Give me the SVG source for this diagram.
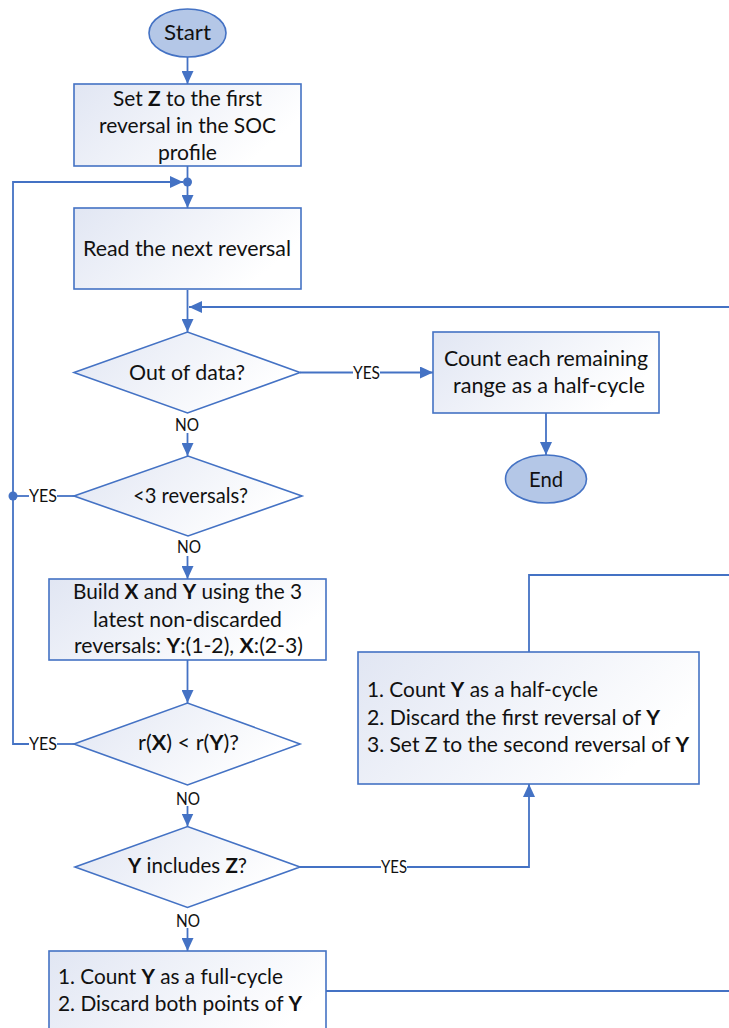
<svg xmlns="http://www.w3.org/2000/svg" width="729" height="1028" viewBox="0 0 729 1028">
<style>
.box{fill:url(#g);stroke:#4472c4;stroke-width:1.6}
.term{fill:#b4c7e7;stroke:#4472c4;stroke-width:1.6}
.t{font-family:Lato,"Open Sans",sans-serif;font-size:21px;fill:#111111}
.l{font-family:Lato,"Open Sans",sans-serif;font-size:17.5px;fill:#111111}
.b{font-weight:bold}
.e{fill:none;stroke:#4472c4;stroke-width:1.8}
.dot{fill:#4472c4}
</style>
<defs>
<linearGradient id="g" x1="0" y1="0" x2="1" y2="0.4">
<stop offset="0" stop-color="#e1e6f3"/>
<stop offset="1" stop-color="#ffffff"/>
</linearGradient>
<marker id="a" markerUnits="userSpaceOnUse" markerWidth="13" markerHeight="12" refX="13" refY="6" orient="auto">
<path d="M0,0 L13,6 L0,12 Z" fill="#4472c4"/>
</marker>
</defs>
<rect width="729" height="1028" fill="#ffffff"/>

<g id="connectors">
<path class="e" d="M187.5,57 V84" marker-end="url(#a)"/>
<path class="e" d="M187.5,166 V208" marker-end="url(#a)"/>
<circle class="dot" cx="187.5" cy="182" r="4.5"/>
<path class="e" d="M74,744 H57"/>
<path class="e" d="M29,744 H13 V182 H183" marker-end="url(#a)"/>
<path class="e" d="M74,496 H57"/>
<path class="e" d="M29,496 H13"/>
<circle class="dot" cx="13" cy="496" r="4.5"/>
<path class="e" d="M187.5,290 V332" marker-end="url(#a)"/>
<path class="e" d="M729,307 H189" marker-end="url(#a)"/>
<path class="e" d="M300,372.5 H353"/>
<path class="e" d="M380,372.5 H433" marker-end="url(#a)"/>
<path class="e" d="M546,413 V455" marker-end="url(#a)"/>
<path class="e" d="M187.5,433 V456" marker-end="url(#a)"/>
<path class="e" d="M187.5,556 V579" marker-end="url(#a)"/>
<path class="e" d="M187.5,660 V703" marker-end="url(#a)"/>
<path class="e" d="M187.5,806 V826.5" marker-end="url(#a)"/>
<path class="e" d="M300,867 H381"/>
<path class="e" d="M407,867 H529 V784" marker-end="url(#a)"/>
<path class="e" d="M529,652 V575 H729"/>
<path class="e" d="M187.5,928 V951" marker-end="url(#a)"/>
<path class="e" d="M326,991 H729"/>
<text class="l" x="353" y="379" textLength="27" lengthAdjust="spacingAndGlyphs">YES</text>
<text class="l" x="175" y="431" textLength="24" lengthAdjust="spacingAndGlyphs">NO</text>
<text class="l" x="29" y="502" textLength="28" lengthAdjust="spacingAndGlyphs">YES</text>
<text class="l" x="177" y="553" textLength="24" lengthAdjust="spacingAndGlyphs">NO</text>
<text class="l" x="29" y="750" textLength="28" lengthAdjust="spacingAndGlyphs">YES</text>
<text class="l" x="176" y="805" textLength="24" lengthAdjust="spacingAndGlyphs">NO</text>
<text class="l" x="381" y="873" textLength="26" lengthAdjust="spacingAndGlyphs">YES</text>
<text class="l" x="176" y="927" textLength="24" lengthAdjust="spacingAndGlyphs">NO</text>
</g>

<g id="start">
<ellipse class="term" cx="187.5" cy="33" rx="38.5" ry="24"/>
<text class="t" x="164" y="40" textLength="47" lengthAdjust="spacingAndGlyphs">Start</text>
</g>

<g id="setZ">
<rect class="box" x="74" y="84" width="227" height="82"/>
<text class="t" x="113" y="106" textLength="149" lengthAdjust="spacingAndGlyphs">Set <tspan class="b">Z</tspan> to the first</text>
<text class="t" x="99" y="133" textLength="177" lengthAdjust="spacingAndGlyphs">reversal in the SOC</text>
<text class="t" x="158" y="160" textLength="59" lengthAdjust="spacingAndGlyphs">profile</text>
</g>

<g id="read">
<rect class="box" x="74" y="208" width="227" height="81"/>
<text class="t" x="83" y="256" textLength="208" lengthAdjust="spacingAndGlyphs">Read the next reversal</text>
</g>

<g id="outOfData">
<polygon class="box" points="74,372.5 187.5,332 300,372.5 187.5,413"/>
<text class="t" x="129" y="380" textLength="116" lengthAdjust="spacingAndGlyphs">Out of data?</text>
</g>

<g id="countRemaining">
<rect class="box" x="433" y="332" width="226" height="81"/>
<text class="t" x="444" y="366" textLength="204" lengthAdjust="spacingAndGlyphs">Count each remaining</text>
<text class="t" x="453" y="393" textLength="192" lengthAdjust="spacingAndGlyphs">range as a half-cycle</text>
</g>

<g id="end">
<ellipse class="term" cx="546" cy="479" rx="40.5" ry="24"/>
<text class="t" x="529" y="487" textLength="34" lengthAdjust="spacingAndGlyphs">End</text>
</g>

<g id="lessThan3">
<polygon class="box" points="74,496 188,456 302,496 188,536"/>
<text class="t" x="133" y="503" textLength="115" lengthAdjust="spacingAndGlyphs">&lt;3 reversals?</text>
</g>

<g id="buildXY">
<rect class="box" x="49" y="579" width="277" height="81"/>
<text class="t" x="73" y="599" textLength="229" lengthAdjust="spacingAndGlyphs">Build <tspan class="b">X</tspan> and <tspan class="b">Y</tspan> using the 3</text>
<text class="t" x="93" y="627" textLength="189" lengthAdjust="spacingAndGlyphs">latest non-discarded</text>
<text class="t" x="74" y="653" textLength="229" lengthAdjust="spacingAndGlyphs">reversals: <tspan class="b">Y</tspan>:(1-2), <tspan class="b">X</tspan>:(2-3)</text>
</g>

<g id="compare">
<polygon class="box" points="74,744 187.5,703 300,744 187.5,785"/>
<text class="t" x="138" y="750" textLength="101" lengthAdjust="spacingAndGlyphs">r(<tspan class="b">X</tspan>) &lt; r(<tspan class="b">Y</tspan>)?</text>
</g>

<g id="halfCycle">
<rect class="box" x="358" y="652" width="341" height="132"/>
<text class="t" x="367" y="697" textLength="231" lengthAdjust="spacingAndGlyphs">1. Count <tspan class="b">Y</tspan> as a half-cycle</text>
<text class="t" x="367" y="725" textLength="293" lengthAdjust="spacingAndGlyphs">2. Discard the first reversal of <tspan class="b">Y</tspan></text>
<text class="t" x="367" y="752" textLength="322" lengthAdjust="spacingAndGlyphs">3. Set Z to the second reversal of <tspan class="b">Y</tspan></text>
</g>

<g id="includesZ">
<polygon class="box" points="75,867 187.5,826.5 300,867 187.5,907.5"/>
<text class="t" x="128" y="873" textLength="119" lengthAdjust="spacingAndGlyphs"><tspan class="b">Y</tspan> includes <tspan class="b">Z</tspan>?</text>
</g>

<g id="fullCycle">
<rect class="box" x="49" y="951" width="277" height="100"/>
<text class="t" x="58" y="984" textLength="225" lengthAdjust="spacingAndGlyphs">1. Count <tspan class="b">Y</tspan> as a full-cycle</text>
<text class="t" x="58" y="1011" textLength="244" lengthAdjust="spacingAndGlyphs">2. Discard both points of <tspan class="b">Y</tspan></text>
</g>
</svg>
